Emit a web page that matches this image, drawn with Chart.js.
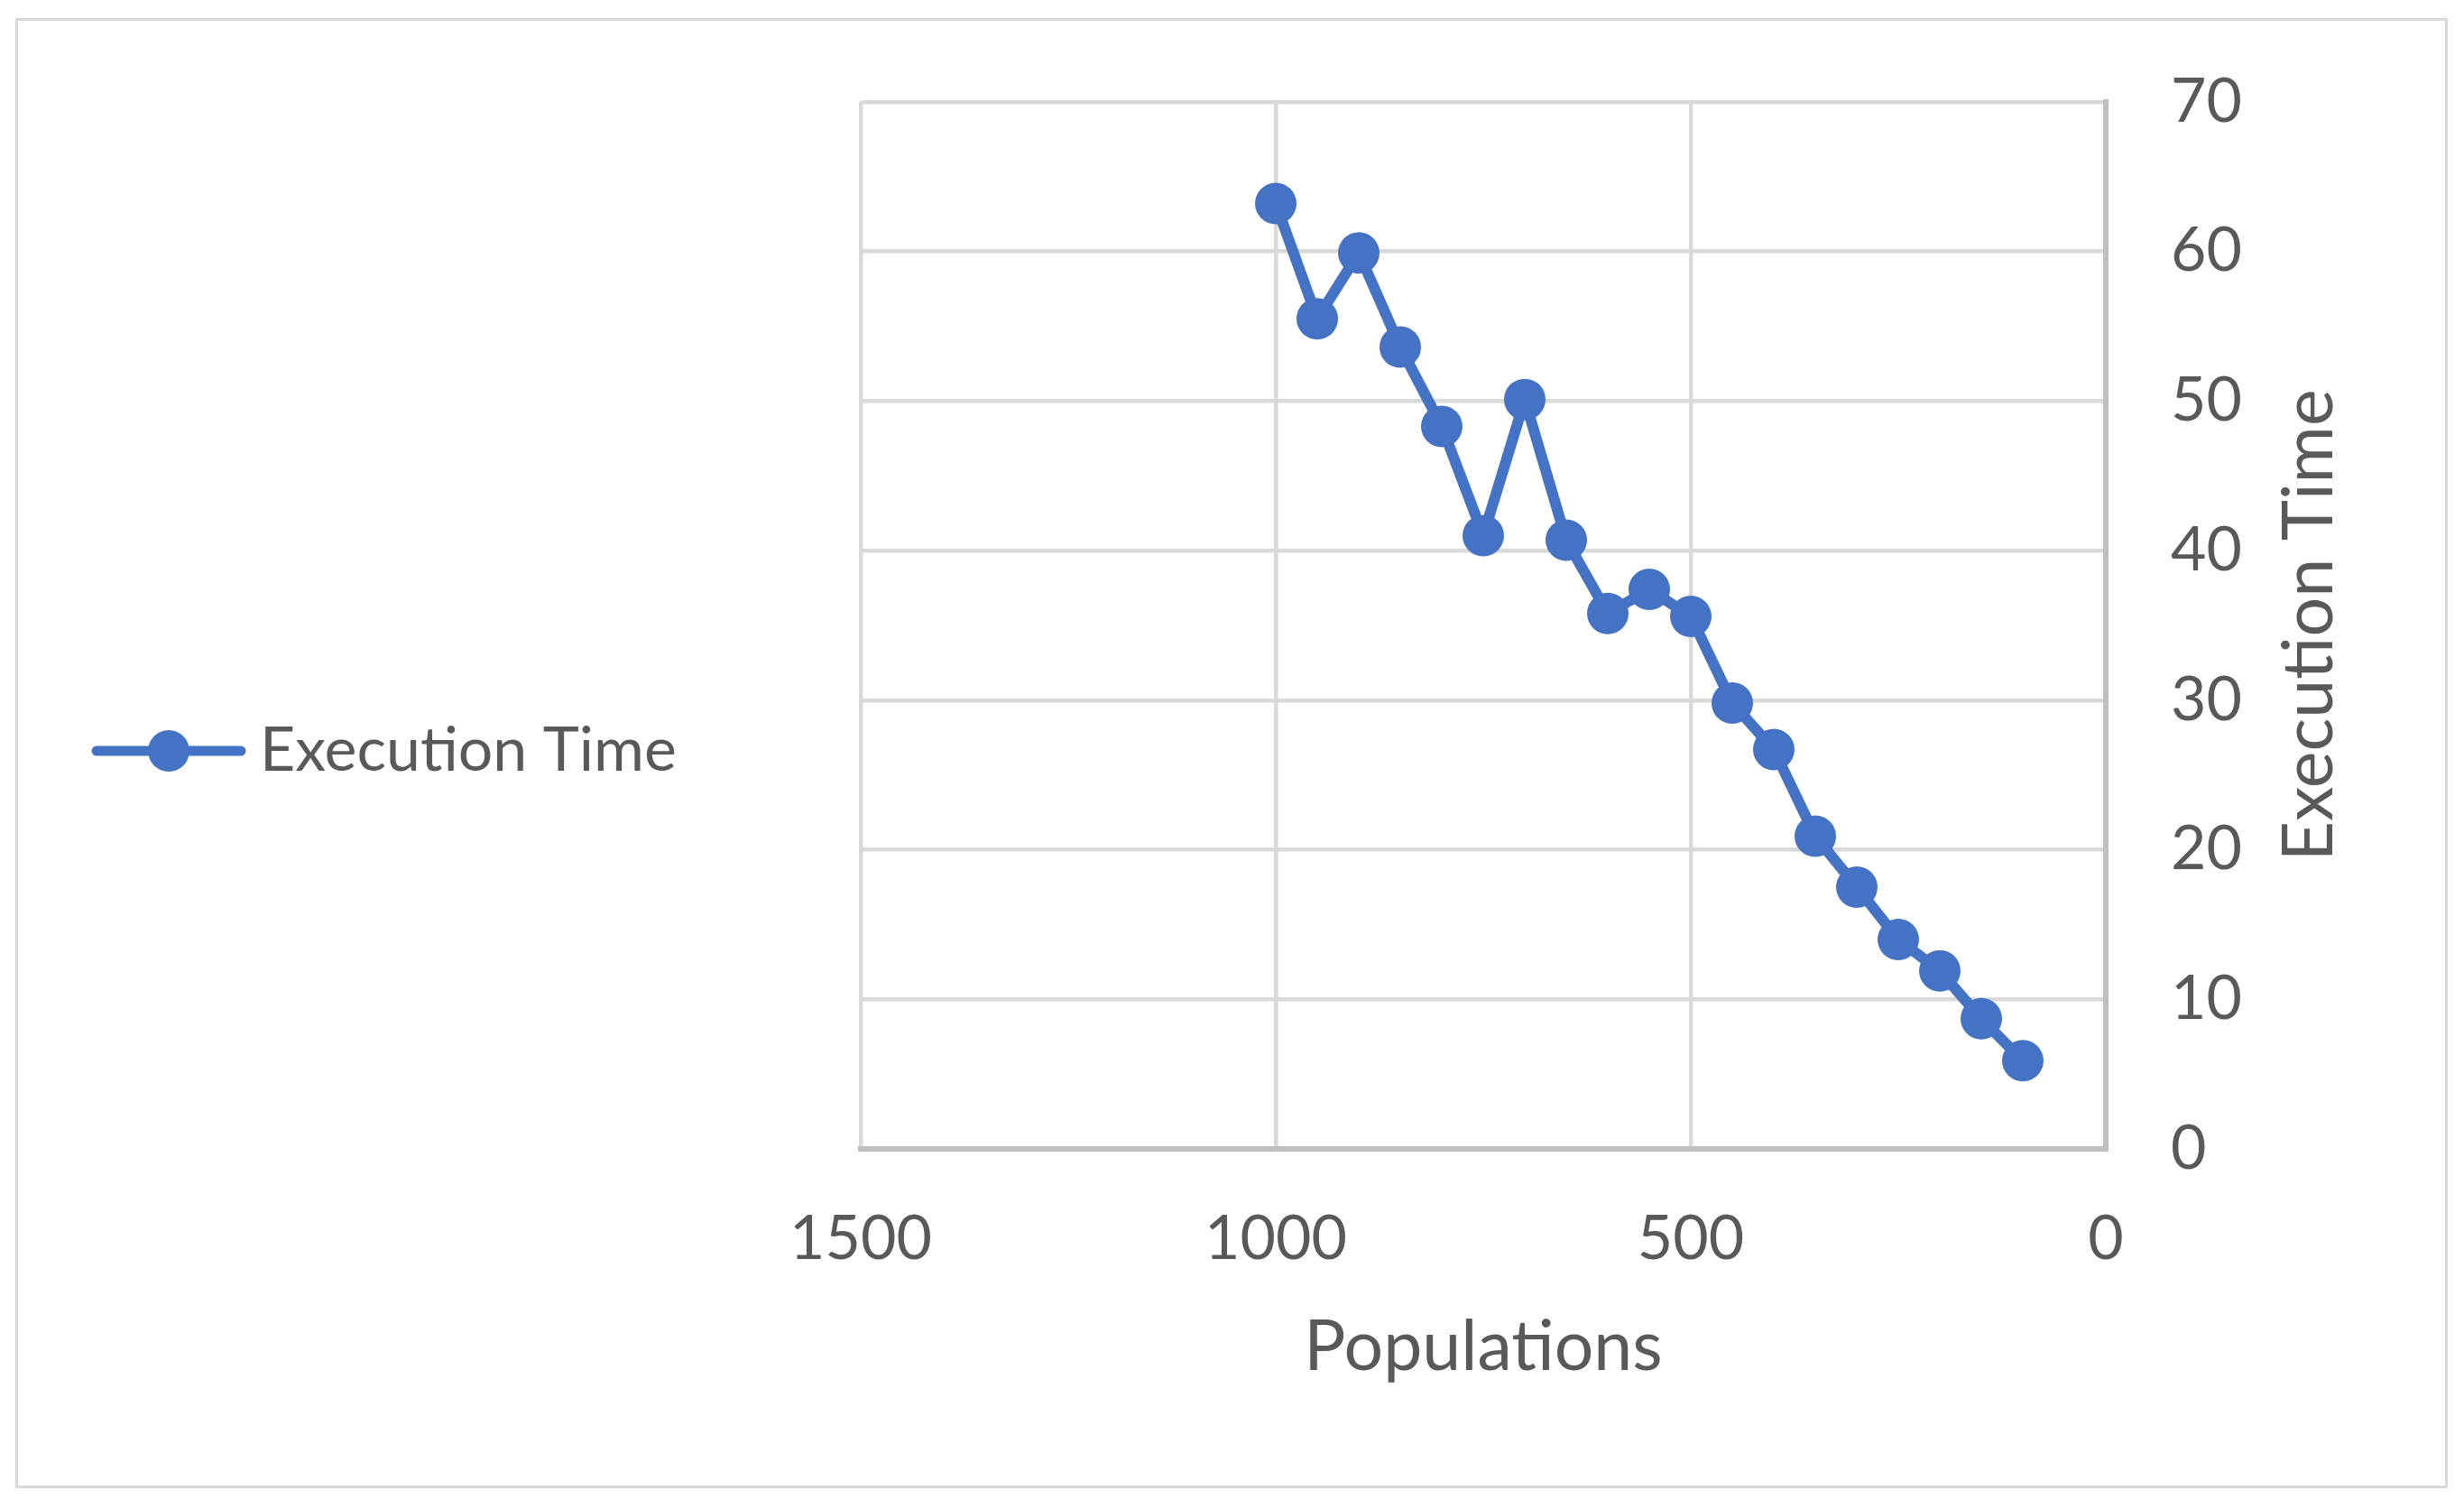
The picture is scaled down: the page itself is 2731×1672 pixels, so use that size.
<!DOCTYPE html>
<html>
<head>
<meta charset="utf-8">
<title>Execution Time</title>
<script src="https://cdn.jsdelivr.net/npm/chart.js@4.4.1/dist/chart.umd.min.js"></script>
<style>
    html, body { margin: 0; padding: 0; background: #ffffff; }
    #wrap { position: relative; width: 2731px; height: 1672px; }
    #frame {
        position: absolute; left: 17px; top: 20px; width: 2690px; height: 1623px;
        border: 3px solid #d9d9d9; pointer-events: none;
    }
    canvas { position: absolute; left: 0; top: 0; }
</style>
</head>
<body>
<div id="wrap">
    <canvas id="execChart" width="2731" height="1672"></canvas>
    <div id="frame"></div>
</div>
<script>
// Data
const populations = [1000, 950, 900, 850, 800, 750, 700, 650, 600, 550, 500, 450, 400, 350, 300, 250, 200, 150, 100];
const executionTime = [63.2, 55.5, 59.9, 53.6, 48.3, 41.0, 50.1, 40.7, 35.8, 37.4, 35.6, 29.8, 26.7, 20.9, 17.5, 14.0, 11.9, 8.7, 5.9];
const xRange = [0, 1500];
const yRange = [0, 70];
const xStep = 500;
const yStep = 10;

const seriesName = 'Execution Time';
const xTitle = 'Populations';
const yTitle = 'Execution Time';

const blue = '#4472C4';
const textGrey = '#595959';
const gridGrey = '#d9d9d9';
const axisGrey = '#bfbfbf';

const labelFont = { family: 'Lato', size: 68 };
const titleFont = { family: 'Lato', size: 77 };

// Where the plot area should start on the left (legend sits in front of it)
const PLOT_LEFT = 954;
const PAD_LEFT = 20;

// Excel-style legend symbol: line with a marker on it
function legendSymbol() {
    const c = document.createElement('canvas');
    c.width = 172;
    c.height = 50;
    const g = c.getContext('2d');
    g.strokeStyle = blue;
    g.lineWidth = 11;
    g.lineCap = 'round';
    g.beginPath();
    g.moveTo(6, 25);
    g.lineTo(166, 25);
    g.stroke();
    g.fillStyle = blue;
    g.beginPath();
    g.arc(86, 25, 23, 0, Math.PI * 2);
    g.fill();
    return c;
}

// Right-hand axis title, reading bottom to top
const yTitlePlugin = {
    id: 'yTitle',
    afterDraw(chart) {
        const {ctx, chartArea} = chart;
        ctx.save();
        ctx.translate(chartArea.right + 226, (chartArea.top + chartArea.bottom) / 2);
        ctx.rotate(-Math.PI / 2);
        ctx.font = titleFont.size + 'px ' + titleFont.family;
        ctx.fillStyle = textGrey;
        ctx.textAlign = 'center';
        ctx.textBaseline = 'middle';
        ctx.fillText(yTitle, 0, 0);
        ctx.restore();
    }
};

document.addEventListener('DOMContentLoaded', function() {
    const points = populations.map((p, i) => ({ x: p, y: executionTime[i] }));

    const ctx = document.getElementById('execChart').getContext('2d');
    // no "ti" ligatures, closer to the original Calibri text
    ctx.textRendering = 'optimizeSpeed';

    new Chart(ctx, {
        type: 'line',
        data: {
            datasets: [{
                label: seriesName,
                data: points,
                borderColor: blue,
                backgroundColor: blue,
                borderWidth: 12,
                borderJoinStyle: 'round',
                pointRadius: 23,
                pointHoverRadius: 23,
                pointBorderWidth: 0,
                pointBackgroundColor: blue,
                tension: 0,
                fill: false
            }]
        },
        options: {
            responsive: false,
            animation: false,
            devicePixelRatio: 1,
            layout: {
                padding: { left: PAD_LEFT, right: 0, top: 110, bottom: 118 }
            },
            plugins: {
                legend: {
                    position: 'left',
                    maxWidth: 900,
                    labels: {
                        usePointStyle: true,
                        pointStyle: legendSymbol(),
                        pointStyleWidth: 134,
                        padding: 100,
                        color: textGrey,
                        font: labelFont
                    }
                },
                tooltip: { enabled: false }
            },
            scales: {
                x: {
                    type: 'linear',
                    position: 'bottom',
                    reverse: true,
                    min: xRange[0],
                    max: xRange[1],
                    ticks: {
                        stepSize: xStep,
                        padding: 59,
                        color: textGrey,
                        font: labelFont,
                        callback: (v) => String(v)
                    },
                    grid: {
                        color: gridGrey,
                        lineWidth: 4.5,
                        drawTicks: false
                    },
                    border: { color: axisGrey, width: 6 },
                    title: {
                        display: true,
                        text: xTitle,
                        color: textGrey,
                        font: titleFont,
                        padding: { top: 0, bottom: 15 }
                    },
                    afterFit(scale) {
                        scale.height = 281;
                    }
                },
                y: {
                    type: 'linear',
                    position: 'right',
                    min: yRange[0],
                    max: yRange[1],
                    ticks: {
                        stepSize: yStep,
                        padding: 72,
                        color: textGrey,
                        font: labelFont,
                        callback: (v) => String(v)
                    },
                    grid: {
                        color: (c) => c.tick && c.tick.value === 0 ? 'rgba(0,0,0,0)' : gridGrey,
                        lineWidth: 4.5,
                        drawTicks: false
                    },
                    border: { color: axisGrey, width: 6 },
                    afterFit(scale) {
                        scale.width = 397;
                    }
                },
                // empty axis that only reserves the gap between legend and plot
                spacer: {
                    type: 'linear',
                    position: 'left',
                    display: true,
                    grid: { display: false },
                    ticks: { display: false },
                    border: { display: false },
                    afterFit(scale) {
                        scale.width = Math.max(0, PLOT_LEFT - PAD_LEFT - scale.chart.legend.width);
                    }
                }
            }
        },
        plugins: [yTitlePlugin]
    });
});
</script>
</body>
</html>
